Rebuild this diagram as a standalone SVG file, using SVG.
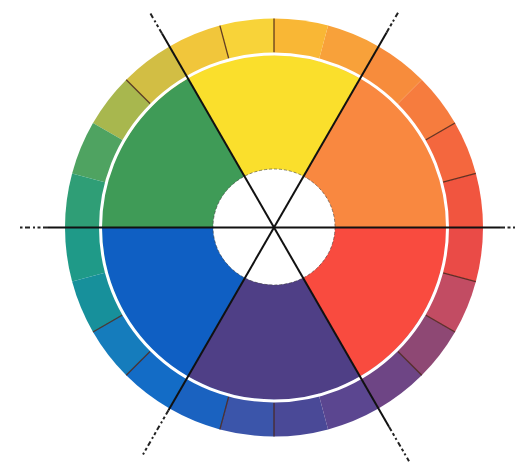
<svg xmlns="http://www.w3.org/2000/svg" width="529" height="470" viewBox="0 0 529 470">
<style>
.tick{stroke:#4a2418;stroke-width:1.3;opacity:0.85}
.axis{stroke:#111;stroke-width:2;fill:none}
.axisd{stroke:#222;stroke-width:2;fill:none;stroke-dasharray:5 2.5 3 2.5 2 3}
</style>
<rect width="529" height="470" fill="#ffffff"/>
<g id="outer-ring">
<path fill="#F1553F" d="M274,227.5 L483,227.5 A209,209 0 0 0 475.88,173.41 Z"/>
<path fill="#F4673E" d="M274,227.5 L475.88,173.41 A209,209 0 0 0 455,123 Z"/>
<path fill="#F67C3E" d="M274,227.5 L455,123 A209,209 0 0 0 421.79,79.71 Z"/>
<path fill="#F78C3C" d="M274,227.5 L421.79,79.71 A209,209 0 0 0 378.5,46.5 Z"/>
<path fill="#F8A13A" d="M274,227.5 L378.5,46.5 A209,209 0 0 0 328.09,25.62 Z"/>
<path fill="#F9B735" d="M274,227.5 L328.09,25.62 A209,209 0 0 0 274,18.5 Z"/>
<path fill="#F8D339" d="M274,227.5 L274,18.5 A209,209 0 0 0 219.91,25.62 Z"/>
<path fill="#F1C63B" d="M274,227.5 L219.91,25.62 A209,209 0 0 0 169.5,46.5 Z"/>
<path fill="#D2BE44" d="M274,227.5 L169.5,46.5 A209,209 0 0 0 126.21,79.71 Z"/>
<path fill="#A8B74E" d="M274,227.5 L126.21,79.71 A209,209 0 0 0 93,123 Z"/>
<path fill="#4FA361" d="M274,227.5 L93,123 A209,209 0 0 0 72.12,173.41 Z"/>
<path fill="#2F9E76" d="M274,227.5 L72.12,173.41 A209,209 0 0 0 65,227.5 Z"/>
<path fill="#1F9A88" d="M274,227.5 L65,227.5 A209,209 0 0 0 72.12,281.59 Z"/>
<path fill="#17909B" d="M274,227.5 L72.12,281.59 A209,209 0 0 0 93,332 Z"/>
<path fill="#157CBC" d="M274,227.5 L93,332 A209,209 0 0 0 126.21,375.29 Z"/>
<path fill="#136CC6" d="M274,227.5 L126.21,375.29 A209,209 0 0 0 169.5,408.5 Z"/>
<path fill="#1A62C0" d="M274,227.5 L169.5,408.5 A209,209 0 0 0 219.91,429.38 Z"/>
<path fill="#3B55AA" d="M274,227.5 L219.91,429.38 A209,209 0 0 0 274,436.5 Z"/>
<path fill="#4A4997" d="M274,227.5 L274,436.5 A209,209 0 0 0 328.09,429.38 Z"/>
<path fill="#5B4690" d="M274,227.5 L328.09,429.38 A209,209 0 0 0 378.5,408.5 Z"/>
<path fill="#6E4585" d="M274,227.5 L378.5,408.5 A209,209 0 0 0 421.79,375.29 Z"/>
<path fill="#8E4874" d="M274,227.5 L421.79,375.29 A209,209 0 0 0 455,332 Z"/>
<path fill="#C24C63" d="M274,227.5 L455,332 A209,209 0 0 0 475.88,281.59 Z"/>
<path fill="#EA4B47" d="M274,227.5 L475.88,281.59 A209,209 0 0 0 483,227.5 Z"/>
</g>
<g id="ticks">
<line class="tick" x1="443.04" y1="182.21" x2="475.88" y2="173.41"/>
<line class="tick" x1="425.55" y1="140" x2="455" y2="123"/>
<line class="tick" x1="274" y1="52.5" x2="274" y2="18.5"/>
<line class="tick" x1="228.71" y1="58.46" x2="219.91" y2="25.62"/>
<line class="tick" x1="150.26" y1="103.76" x2="126.21" y2="79.71"/>
<line class="tick" x1="122.45" y1="315" x2="93" y2="332"/>
<line class="tick" x1="150.26" y1="351.24" x2="126.21" y2="375.29"/>
<line class="tick" x1="228.71" y1="396.54" x2="219.91" y2="429.38"/>
<line class="tick" x1="274" y1="402.5" x2="274" y2="436.5"/>
<line class="tick" x1="397.74" y1="351.24" x2="421.79" y2="375.29"/>
<line class="tick" x1="425.55" y1="315" x2="455" y2="332"/>
<line class="tick" x1="443.04" y1="272.79" x2="475.88" y2="281.59"/>
</g>
<g id="inner-sectors">
<path id="orange" fill="#F98840" d="M274,227.5 L446,227.5 A172,172 0 0 0 360,78.54 Z"/>
<path id="yellow" fill="#FADF2C" d="M274,227.5 L360,78.54 A172,172 0 0 0 188,78.54 Z"/>
<path id="green" fill="#3F9B57" d="M274,227.5 L188,78.54 A172,172 0 0 0 102,227.5 Z"/>
<path id="blue" fill="#0F5FC3" d="M274,227.5 L102,227.5 A172,172 0 0 0 188,376.46 Z"/>
<path id="purple" fill="#4F3F86" d="M274,227.5 L188,376.46 A172,172 0 0 0 360,376.46 Z"/>
<path id="red" fill="#F94B3F" d="M274,227.5 L360,376.46 A172,172 0 0 0 446,227.5 Z"/>
</g>
<circle id="separator" cx="274" cy="227.5" r="173.5" fill="none" stroke="#ffffff" stroke-width="3"/>
<ellipse id="hole" cx="274" cy="227" rx="61" ry="58" fill="#ffffff" stroke="#444" stroke-width="1" stroke-dasharray="3 2" stroke-opacity="0.6"/>
<g id="connectors">
<line class="axis" x1="48" y1="227.5" x2="500" y2="227.5"/>
<line class="axisd" x1="48" y1="227.5" x2="20" y2="227.5"/>
<line class="axisd" x1="500" y1="227.5" x2="515" y2="227.5"/>
<line class="axis" x1="162" y1="33.5" x2="389" y2="426.7"/>
<line class="axisd" x1="162" y1="33.5" x2="149.5" y2="11.9"/>
<line class="axisd" x1="389" y1="426.7" x2="409" y2="461.3"/>
<line class="axis" x1="386.5" y1="32.65" x2="168.5" y2="410.2"/>
<line class="axisd" x1="386.5" y1="32.65" x2="398" y2="12.7"/>
<line class="axisd" x1="168.5" y1="410.2" x2="141.5" y2="457"/>
</g>
</svg>
